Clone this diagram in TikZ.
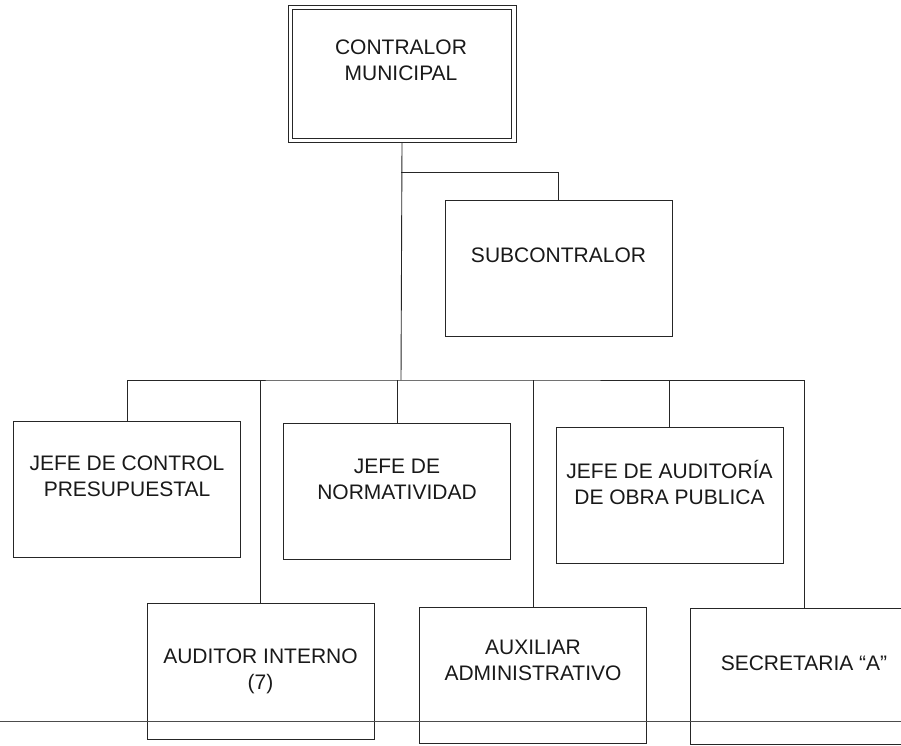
\documentclass[tikz,border=0pt]{standalone}
\usepackage{fontspec}
\setmainfont{Liberation Sans}
\usetikzlibrary{positioning}

\begin{document}
\begin{tikzpicture}[x=1pt, y=-1pt, line width=0.9pt, draw=black!85,
    every node/.style={font=\fontsize{21}{26}\selectfont, align=center, text=black!90},
    puesto/.style={draw=black!85, rectangle, minimum width=227pt, minimum height=136pt, inner sep=0pt}
    ]
\useasboundingbox (0,0) rectangle (901,745);
% recuadros
\node[puesto, minimum width=228pt, minimum height=137pt] (cm) at (402,73.5) {};
\draw ([xshift=5pt,yshift=-5pt]cm.north west) rectangle ([xshift=-5pt,yshift=4pt]cm.south east);
\node[puesto]  (sub) at (558.5,268) {};
\node[puesto]  (jc)  at (127,489)   {};
\node[puesto]  (jn)  at (397,491.5) {};
\node[puesto]  (ja)  at (669.5,495.5) {};
\node[puesto]  (ai)  at (260.5,671.5) {};
\node[puesto]  (ax)  at (533,675)   {};
\node[puesto]  (sec) at (804,676)   {};
% textos
\node at (401,60.5)  {CONTRALOR\\MUNICIPAL};
\node at (558.5,255) {SUBCONTRALOR};
\node at (127,476)   {JEFE DE CONTROL\\PRESUPUESTAL};
\node at (397,479)   {JEFE DE\\NORMATIVIDAD};
\node at (669.5,482) {JEFE DE AUDITOR\'IA\\DE OBRA PUBLICA};
\node at (260.5,671.5) {AUDITOR INTERNO\\(7)};
\node at (533,660.5) {AUXILIAR\\ADMINISTRATIVO};
\node at (804,663)   {SECRETARIA \textquotedblleft A\textquotedblright};
% lineas
\coordinate (rama) at (401,172);
\coordinate (bus)  at (401,380);
\draw (cm.south) -- (bus);
\draw (rama) -| (sub.north);
\draw (jc.north) |- (bus) -| (sec.north);
\draw (ai.north) -- (ai.north |- bus);
\draw (jn.north) -- (jn.north |- bus);
\draw (ax.north) -- (ax.north |- bus);
\draw (ja.north) -- (ja.north |- bus);
\draw[black!70] (0,721) -- (901,721);
\end{tikzpicture}
\end{document}
